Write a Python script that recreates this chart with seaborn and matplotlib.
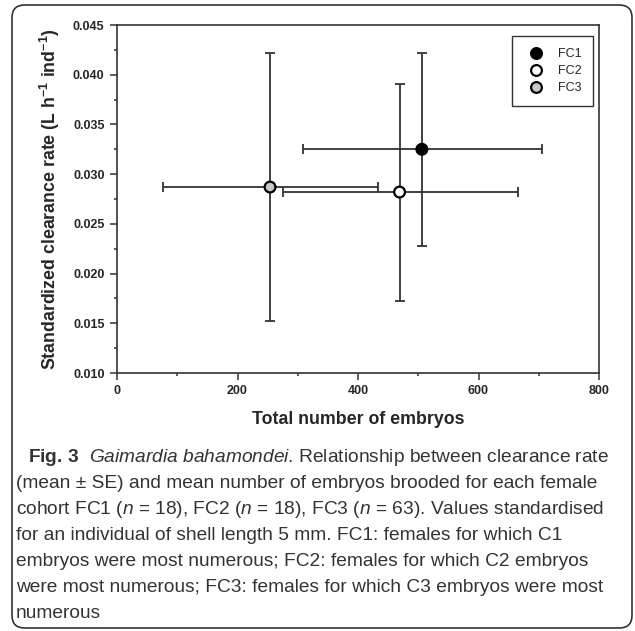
import numpy as np
import pandas as pd
import seaborn as sns
import matplotlib
matplotlib.use("Agg")
import matplotlib.pyplot as plt
from matplotlib.ticker import MultipleLocator, FormatStrFormatter
from matplotlib.patches import FancyBboxPatch

# values
cohorts = ["FC1", "FC2", "FC3"]
embryos = [506, 469, 254]
clearance = [0.0325, 0.0282, 0.0287]
embryos_lo = [308, 275, 76]
embryos_hi = [705, 666, 434]
clearance_lo = [0.0228, 0.0172, 0.0152]
clearance_hi = [0.0422, 0.0391, 0.0422]

caption_lines = [
    r"$\mathbf{Fig.\,3}$  $\mathit{Gaimardia\ bahamondei}$. Relationship between clearance rate",
    "(mean \u00b1 SE) and mean number of embryos brooded for each female",
    r"cohort FC1 ($\mathit{n}$ = 18), FC2 ($\mathit{n}$ = 18), FC3 ($\mathit{n}$ = 63). Values standardised",
    "for an individual of shell length 5 mm. FC1: females for which C1",
    "embryos were most numerous; FC2: females for which C2 embryos",
    "were most numerous; FC3: females for which C3 embryos were most",
    "numerous",
]

df = pd.DataFrame({"cohort": cohorts, "embryos": embryos, "clearance": clearance})

sns.set_style("ticks")
plt.rcParams["font.family"] = ["Liberation Sans", "DejaVu Sans"]
plt.rcParams["mathtext.fontset"] = "custom"
plt.rcParams["mathtext.rm"] = "Liberation Sans"
plt.rcParams["mathtext.it"] = "Liberation Sans:italic"
plt.rcParams["mathtext.bf"] = "Liberation Sans:bold"

W, H = 635, 631
fig = plt.figure(figsize=(W / 100, H / 100), dpi=100)
ax = fig.add_axes([117 / W, 1 - 373 / H, 482 / W, 348 / H])

x = np.array(embryos, float)
y = np.array(clearance, float)
xerr = [x - np.array(embryos_lo), np.array(embryos_hi) - x]
yerr = [y - np.array(clearance_lo), np.array(clearance_hi) - y]
ax.errorbar(x, y, xerr=xerr, yerr=yerr, fmt="none", ecolor="#333333",
            elinewidth=1.3, capsize=3.5, capthick=1.3, zorder=2)

sns.scatterplot(data=df, x="embryos", y="clearance", hue="cohort",
                palette={"FC1": "black", "FC2": "white", "FC3": "#c8c8c8"},
                edgecolor="black", linewidth=1.6, s=60, zorder=3, ax=ax)

ax.set_xlim(0, 800)
ax.set_ylim(0.010, 0.045)
ax.xaxis.set_major_locator(MultipleLocator(200))
ax.xaxis.set_minor_locator(MultipleLocator(100))
ax.yaxis.set_major_locator(MultipleLocator(0.005))
ax.yaxis.set_minor_locator(MultipleLocator(0.0025))
ax.yaxis.set_major_formatter(FormatStrFormatter("%.3f"))
ax.tick_params(which="major", direction="out", length=5, width=1.1, color="#333333",
               labelsize=9, pad=4)
ax.tick_params(which="minor", direction="out", length=2.5, width=1.1, color="#333333")
for lab in ax.get_xticklabels() + ax.get_yticklabels():
    lab.set_fontweight("bold")
for sp in ax.spines.values():
    sp.set_visible(True)
    sp.set_color("#333333")
    sp.set_linewidth(1.2)

ax.set_xlabel("Total number of embryos", fontsize=12.8, fontweight="bold")
ax.set_ylabel(r"Standardized clearance rate (L h$^{\mathbf{-1}}$ ind$^{\mathbf{-1}}$)",
              fontsize=12.8, fontweight="bold")
ax.xaxis.set_label_coords(0.5, -0.135)
ax.xaxis.label.set_va("center")
ax.yaxis.set_label_coords(-0.139, 0.5)
ax.yaxis.label.set_va("center")

handles, labels = ax.get_legend_handles_labels()
leg = ax.legend(handles, labels, loc="upper right", bbox_to_anchor=(0.988, 0.968),
                borderaxespad=0, fontsize=9, frameon=True, fancybox=False,
                borderpad=0.95, labelspacing=0.4, handletextpad=0.7, handlelength=2.0)
leg.get_frame().set_edgecolor("black")
leg.get_frame().set_linewidth(1.0)

border = FancyBboxPatch((12 / W, 1 - 628 / H), 620 / W, 623 / H,
                        boxstyle="round,pad=0,rounding_size=0.02",
                        transform=fig.transFigure, facecolor="none",
                        edgecolor="#333333", linewidth=1.2)
fig.patches.append(border)

for i, line in enumerate(caption_lines):
    ypix = 462 + 26 * i
    xpix = 28 if i == 0 else 16
    fig.text(xpix / W, 1 - ypix / H, line, fontsize=13.8, color="#333333",
             ha="left", va="baseline")

fig.savefig("out.png", dpi=100)
